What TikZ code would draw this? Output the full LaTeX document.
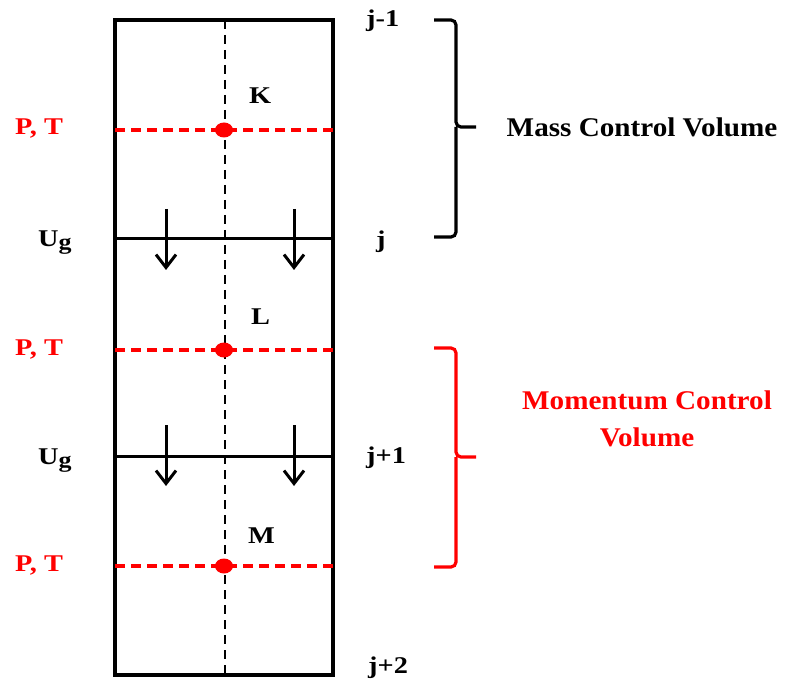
\documentclass[tikz,border=0pt]{standalone}
\usepackage{fontspec}
\setmainfont{Liberation Serif}
\newfontfamily\lblfont{Liberation Serif}[FakeStretch=1.18]
\newfontfamily\cvfont{Liberation Serif}[FakeStretch=1.08]
\usetikzlibrary{arrows.meta,shapes.geometric}
\definecolor{myred}{RGB}{255,0,0}
\begin{document}
\begin{tikzpicture}[x=1pt,y=-1pt,
  wall/.style={line width=3.4pt},
  cellline/.style={line width=3pt},
  axisline/.style={line width=2.4pt, dash pattern=on 9pt off 6pt},
  reddash/.style={draw=myred, line width=3.4pt, dash pattern=on 10pt off 6pt},
  flow/.style={line width=3pt, -{Straight Barb[length=13pt,width=20pt,line width=3pt]}},
  lbl/.style={font=\fontsize{24}{28}\selectfont\lblfont\bfseries, inner sep=0pt, anchor=base west},
  redlbl/.style={lbl, text=myred},
  cvlbl/.style={font=\fontsize{27}{37}\selectfont\cvfont\bfseries, inner sep=0pt, align=center},
  brace/.style={line width=3.2pt, rounded corners=5pt},
  dot/.style={ellipse, fill=myred, minimum width=18pt, minimum height=15pt, inner sep=0pt}
]
\useasboundingbox (0,0) rectangle (786,684);
% grid coordinates
\coordinate (tl) at (115,20);
\coordinate (br) at (333,675);
\coordinate (jL) at (115,239);
\coordinate (jR) at (333,239);
\coordinate (j1L) at (115,456);
\coordinate (j1R) at (333,456);
\coordinate (axT) at (225,20);
\coordinate (axB) at (225,675);
% walls
\draw[wall] (tl) rectangle (br);
\draw[cellline] (jL) -- (jR);
\draw[cellline] (j1L) -- (j1R);
\draw[axisline] (axT) -- (axB);
% red pressure/temperature lines
\foreach \n/\y in {K/130,L/350,M/566}{
  \coordinate (pL\n) at (115,\y);
  \coordinate (pR\n) at (333,\y);
  \draw[reddash] (pL\n) -- (pR\n);
  \node[dot] (dot\n) at (224,\y) {};
  \node[redlbl] (pt\n) at (15,\y+5) {P, T};
}
% arrows
\coordinate (a1s) at (166,209); \coordinate (a1e) at (166,270);
\coordinate (a2s) at (294,209); \coordinate (a2e) at (294,270);
\coordinate (a3s) at (166,425); \coordinate (a3e) at (166,486);
\coordinate (a4s) at (294,425); \coordinate (a4e) at (294,486);
\draw[flow] (a1s) -- (a1e);
\draw[flow] (a2s) -- (a2e);
\draw[flow] (a3s) -- (a3e);
\draw[flow] (a4s) -- (a4e);
% Ug labels
\node[lbl] (ug1) at (38,247) {U\raisebox{-3pt}{\fontsize{22}{26}\selectfont g}};
\node[lbl] (ug2) at (38,464) {U\raisebox{-3pt}{\fontsize{22}{26}\selectfont g}};
% cell labels
\node[lbl] (K) at (249,104) {K};
\node[lbl] (L) at (251,324) {L};
\node[lbl] (M) at (248,543) {M};
% index labels
\node[lbl] (jm1) at (366,27) {j-1};
\node[lbl] (j0) at (376,248) {j};
\node[lbl] (jp1) at (366,463) {j+1};
\node[lbl] (jp2) at (368,673) {j+2};
% braces
\coordinate (b1t) at (434,20);
\coordinate (b1b) at (434,237);
\coordinate (b1m) at (456,127);
\coordinate (b1tip) at (476,127);
\draw[brace] (b1t) -- (456,20) -- (b1m) -- (b1tip);
\draw[brace] (b1m) -- (456,237) -- (b1b);
\coordinate (b2t) at (434,348);
\coordinate (b2b) at (434,567);
\coordinate (b2m) at (456,457);
\coordinate (b2tip) at (476,457);
\draw[brace, draw=myred] (b2t) -- (456,348) -- (b2m) -- (b2tip);
\draw[brace, draw=myred] (b2m) -- (456,567) -- (b2b);
% control volume labels
\node[cvlbl, anchor=base] (mcv) at (642,137) {Mass Control Volume};
\node[cvlbl, anchor=base, text=myred] (mom) at (647,446) {Momentum Control\\Volume};
\end{tikzpicture}
\end{document}
